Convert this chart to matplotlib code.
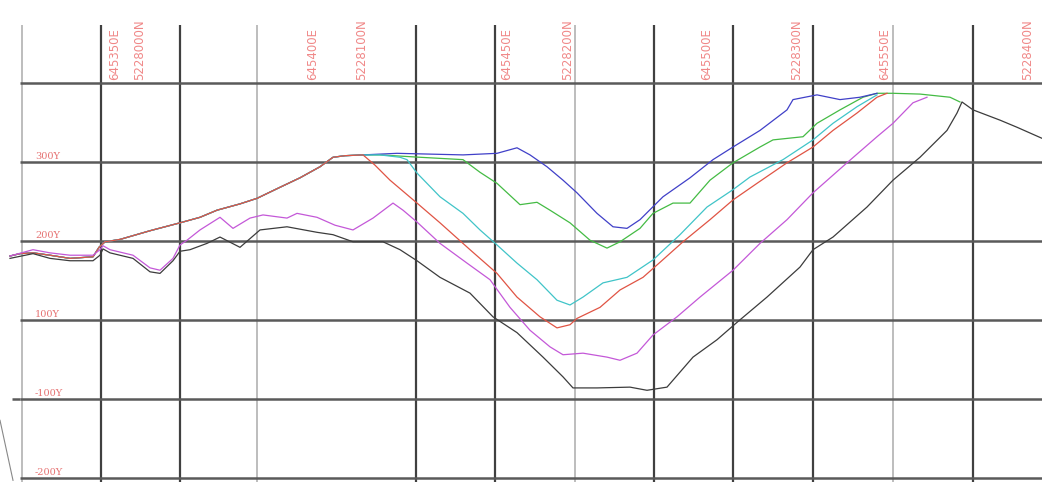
import matplotlib
matplotlib.use("Agg")
import matplotlib.pyplot as plt

# long section: distance along line (m) vs level (Y)
# shared climb from the west end, used by the upper four profiles
upper_x = [10, 20, 33, 50, 70, 93, 99, 105, 120, 150, 180, 200, 217, 240, 257, 280, 300, 320, 333, 345, 363]
upper_y = [181, 184, 185, 182, 178, 180, 192, 199, 202, 213, 223, 230, 239, 247, 254, 268, 280, 294, 306, 308, 309]

red_x = [375, 390, 417, 440, 470, 497, 517, 540, 557, 570, 577, 600, 620, 643, 660, 683, 710, 733, 757, 787, 813, 833, 857, 877, 887]
red_y = [296, 277, 248, 223, 189, 159, 129, 104, 90, 94, 102, 116, 138, 154, 173, 199, 227, 252, 273, 299, 319, 340, 362, 382, 387]

blue_x = [380, 397, 430, 463, 497, 517, 530, 547, 563, 577, 597, 613, 627, 640, 663, 690, 713, 733, 760, 787, 793, 817, 840, 860, 877]
blue_y = [310, 311, 310, 309, 311, 318, 309, 294, 277, 261, 235, 218, 216, 227, 256, 280, 303, 319, 340, 366, 379, 385, 379, 382, 387]

cyan_x = [380, 400, 407, 417, 440, 463, 480, 497, 517, 537, 557, 570, 583, 603, 627, 653, 680, 707, 733, 750, 783, 813, 833, 857, 877]
cyan_y = [309, 306, 303, 286, 256, 235, 214, 195, 172, 151, 125, 119, 129, 147, 154, 176, 208, 243, 265, 281, 303, 328, 349, 370, 385]

green_x = [380, 420, 463, 480, 497, 520, 537, 550, 570, 590, 607, 620, 640, 653, 673, 690, 710, 733, 760, 773, 803, 817, 840, 863, 877, 893, 920, 950, 960]
green_y = [309, 306, 303, 287, 273, 246, 249, 239, 223, 201, 191, 199, 216, 235, 248, 248, 277, 299, 319, 328, 332, 349, 366, 382, 387, 387, 386, 382, 376]

magenta_x = [10, 33, 50, 70, 93, 100, 103, 110, 133, 150, 160, 173, 180, 187, 200, 220, 233, 250, 263, 287, 297, 317, 335, 353, 373,
             393, 403, 417, 440, 467, 490, 510, 530, 550, 563, 583, 607, 620, 637, 653, 677, 700, 733, 760, 787, 813, 847, 877, 893, 913, 927]
magenta_y = [181, 189, 185, 182, 182, 189, 194, 189, 182, 166, 163, 178, 195, 201, 214, 230, 216, 229, 233, 229, 235, 230, 220, 214, 229,
             248, 239, 224, 197, 172, 151, 116, 87, 66, 56, 58, 53, 49, 58, 81, 104, 129, 163, 197, 227, 261, 299, 332, 349, 375, 382]

black_x = [10, 33, 50, 70, 93, 100, 103, 110, 133, 150, 160, 173, 180, 190, 207, 220, 240, 260, 287, 317, 333, 353, 383, 400, 417, 440, 470,
           493, 517, 543, 563, 573, 597, 630, 647, 667, 693, 717, 737, 767, 800, 813, 833, 867, 893, 920, 947, 957, 962, 973, 1000, 1017, 1042]
black_y = [178, 184, 178, 175, 175, 182, 190, 185, 178, 161, 159, 175, 187, 189, 197, 205, 192, 214, 218, 211, 208, 199, 199, 189, 175, 154, 134,
           104, 84, 53, 28, 14, 14, 15, 11, 15, 53, 75, 97, 129, 167, 189, 205, 243, 277, 306, 340, 362, 376, 366, 353, 344, 330]

level_labels = ["300Y", "200Y", "100Y", "-100Y", "-200Y"]
level_lines = [400, 300, 200, 100, 0, -100]

grid_x_major = [101, 180, 416, 495, 654, 733, 813, 973]
grid_x_minor = [22, 257, 575, 893]

coord_labels = ["645350E", "5228000N", "645400E", "5228100N", "645450E",
                "5228200N", "645500E", "5228300N", "645550E", "5228400N"]
coord_x = [115, 140, 313, 362, 507, 568, 707, 797, 885, 1028]

fig = plt.figure(figsize=(10.42, 4.82), dpi=100)
ax = fig.add_axes([0, 0, 1, 1])
ax.set_xlim(0, 1042)
ax.set_ylim(-105.1, 505.1)
ax.axis("off")

# grid
ax.vlines(grid_x_minor, -110, 473, color="#b8b8b8", lw=1.3, zorder=1)
ax.vlines(grid_x_major, -110, 473, color="#404040", lw=1.6, zorder=1)
ax.hlines(level_lines, 20, 1042, color="#5a5a5a", lw=1.8, zorder=1)
ax.hlines(0, 12, 20, color="#5a5a5a", lw=1.8, zorder=1)
ax.plot([0, 13], [-27, -103], color="#888888", lw=0.8)

# profiles
ax.plot(upper_x + green_x, upper_y + green_y, color="#44bb44", lw=0.9, zorder=3)
ax.plot(upper_x + blue_x, upper_y + blue_y, color="#4040c8", lw=0.9, zorder=3)
ax.plot(upper_x + cyan_x, upper_y + cyan_y, color="#40c4c8", lw=0.9, zorder=3)
ax.plot(upper_x + red_x, upper_y + red_y, color="#e05444", lw=0.9, zorder=3)
ax.plot(magenta_x, magenta_y, color="#c458d8", lw=0.9, zorder=3)
ax.plot(black_x, black_y, color="#3c3c3c", lw=0.9, zorder=3)

# level labels
for lab, lv in zip(level_labels, level_lines[1:]):
    ax.text(35, lv + 1, lab, color="#e05050", fontsize=7, ha="left", va="bottom",
            family="DejaVu Serif", alpha=0.8)

# coordinate labels along the top
for lab, cx in zip(coord_labels, coord_x):
    ax.text(cx, 404, lab, color="#e84848", fontsize=8.5, rotation=90,
            ha="center", va="bottom", alpha=0.65)

fig.savefig("out.png", dpi=100)
